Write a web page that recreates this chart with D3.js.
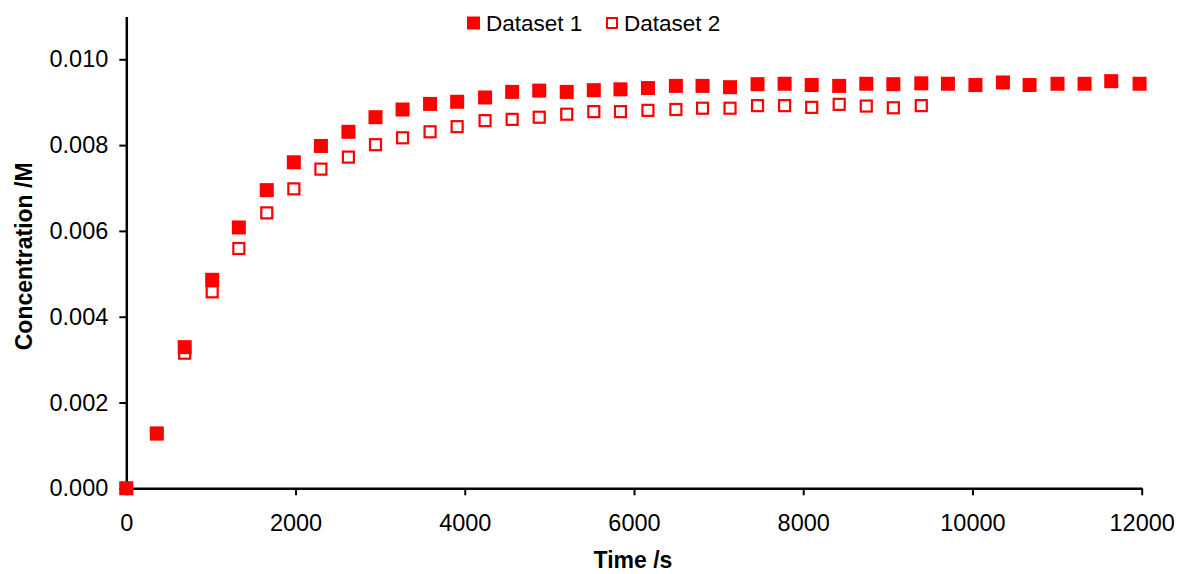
<!DOCTYPE html>
<html>
<head>
<meta charset="utf-8">
<script src="https://cdn.jsdelivr.net/npm/d3@7"></script>
<style>
    body { margin: 0; background: #ffffff; }
    text { font-family: "Liberation Sans", Arial, sans-serif; }
</style>
</head>
<body>
<script>
// sampling times (s), shared by both runs
const times = [0, 360, 690, 1015, 1330, 1660, 1980, 2300, 2625, 2945, 3265, 3590, 3910, 4240, 4560,
    4880, 5205, 5525, 5840, 6165, 6495, 6810, 7135, 7460, 7780, 8100, 8425, 8745, 9065, 9395,
    9710, 10035, 10360, 10675, 11005, 11325, 11640, 11975];

// concentration (M)
const dataset1 = [0, 0.00128, 0.00329, 0.00486, 0.00608, 0.00695, 0.00760, 0.00798, 0.00831, 0.00865,
    0.00883, 0.00896, 0.00901, 0.00911, 0.00924, 0.00927, 0.00924, 0.00928, 0.00930, 0.00933,
    0.00938, 0.00938, 0.00935, 0.00942, 0.00943, 0.00940, 0.00938, 0.00943, 0.00942, 0.00944,
    0.00943, 0.00940, 0.00946, 0.00940, 0.00943, 0.00943, 0.00949, 0.00943];

const dataset2 = [0, 0.00127, 0.00315, 0.00458, 0.00559, 0.00642, 0.00698, 0.00744, 0.00772, 0.00801,
    0.00817, 0.00831, 0.00843, 0.00857, 0.00860, 0.00865, 0.00872, 0.00878, 0.00878, 0.00881,
    0.00883, 0.00886, 0.00886, 0.00892, 0.00892, 0.00888, 0.00895, 0.00891, 0.00887, 0.00892];

const seriesNames = ["Dataset 1", "Dataset 2"];
const xTicks = [0, 2000, 4000, 6000, 8000, 10000, 12000];
const yTicks = [0, 0.002, 0.004, 0.006, 0.008, 0.010];

const RED = "#ff0000";
const width = 1179, height = 574;
const margin = {top: 16.4, right: 37.3, bottom: 85.7, left: 126.3};

const svg = d3.select("body")
    .append("svg")
    .attr("width", width)
    .attr("height", height);

const x = d3.scaleLinear().domain([0, 12000]).range([margin.left, width - margin.right]);
const y = d3.scaleLinear().domain([0, 0.011]).range([height - margin.bottom, margin.top]);

// axes
let xAxis = svg.append("g")
    .attr("transform", "translate(0," + y(0) + ")")
    .call(d3.axisBottom(x).tickValues(xTicks).tickFormat(d3.format("d"))
        .tickSize(7).tickSizeOuter(0).tickPadding(19));

let yAxis = svg.append("g")
    .attr("transform", "translate(" + x(0) + ",0)")
    .call(d3.axisLeft(y).tickValues(yTicks).tickFormat(d3.format(".3f"))
        .tickSize(7).tickSizeOuter(0).tickPadding(11));

[xAxis, yAxis].forEach(function (g) {
    g.select(".domain").attr("stroke", "#000").attr("stroke-width", 2.5);
    g.selectAll(".tick line").attr("stroke", "#000").attr("stroke-width", 2);
    g.selectAll(".tick text")
        .attr("fill", "#000")
        .attr("font-size", 23.5)
        .attr("font-family", '"Liberation Sans", Arial, sans-serif');
});

// axis titles
svg.append("text")
    .attr("x", 633)
    .attr("y", 568)
    .attr("text-anchor", "middle")
    .attr("font-size", 23)
    .attr("font-weight", "bold")
    .text("Time /s");

svg.append("text")
    .attr("transform", "translate(32," + ((y(0) + y(0.011)) / 2 + 4) + ") rotate(-90)")
    .attr("text-anchor", "middle")
    .attr("font-size", 23)
    .attr("font-weight", "bold")
    .text("Concentration /M");

// dataset 1: filled squares
let s1 = 14;
svg.append("g")
    .selectAll("rect")
    .data(dataset1)
    .enter()
    .append("rect")
    .attr("x", (d, i) => x(times[i]) - s1 / 2)
    .attr("y", d => y(d) - s1 / 2)
    .attr("width", s1)
    .attr("height", s1)
    .attr("fill", RED);

// dataset 2: hollow squares
let s2 = 11;
svg.append("g")
    .selectAll("rect")
    .data(dataset2)
    .enter()
    .append("rect")
    .attr("x", (d, i) => x(times[i]) - s2 / 2)
    .attr("y", d => y(d) - s2 / 2)
    .attr("width", s2)
    .attr("height", s2)
    .attr("fill", "none")
    .attr("stroke", RED)
    .attr("stroke-width", 2.2);

// legend
let legend = svg.append("g");
legend.append("rect")
    .attr("x", 467).attr("y", 16.5).attr("width", 13).attr("height", 13)
    .attr("fill", RED);
legend.append("text")
    .attr("x", 486).attr("y", 31)
    .attr("font-size", 22.5)
    .text(seriesNames[0]);
legend.append("rect")
    .attr("x", 607).attr("y", 18).attr("width", 10).attr("height", 10)
    .attr("fill", "none").attr("stroke", RED).attr("stroke-width", 2);
legend.append("text")
    .attr("x", 624).attr("y", 31)
    .attr("font-size", 22.5)
    .text(seriesNames[1]);
</script>
</body>
</html>
